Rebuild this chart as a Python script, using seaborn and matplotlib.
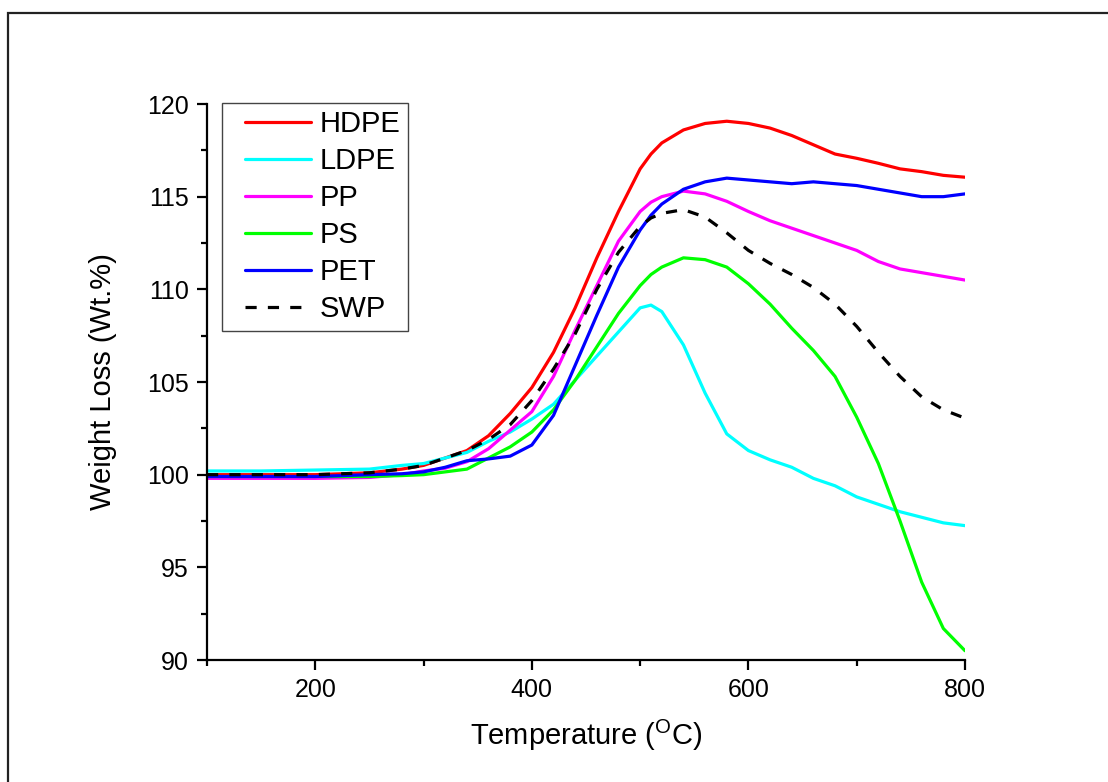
import numpy as np
import pandas as pd
import seaborn as sns
import matplotlib.pyplot as plt
from matplotlib.patches import Rectangle
from matplotlib.ticker import MultipleLocator
from matplotlib.legend_handler import HandlerLine2D

# temperatura comun para todas las curvas (grados C)
temperatura = [100, 150, 200, 250, 280, 300, 320, 340, 360, 380, 400, 420, 440, 460, 480, 500,
               510, 520, 540, 560, 580, 600, 620, 640, 660, 680, 700, 720, 740, 760, 780, 800]

hdpe = [100.0, 100.0, 100.0, 100.1, 100.3, 100.5, 100.9, 101.3, 102.1, 103.3, 104.7, 106.6, 109.0, 111.7, 114.2, 116.5,
        117.3, 117.9, 118.6, 118.95, 119.07, 118.95, 118.7, 118.3, 117.8, 117.3, 117.07, 116.8, 116.5, 116.35, 116.15, 116.05]
ldpe = [100.2, 100.2, 100.25, 100.3, 100.5, 100.6, 100.9, 101.2, 101.8, 102.3, 103.0, 103.8, 105.1, 106.4, 107.7, 109.0,
        109.15, 108.8, 107.0, 104.4, 102.2, 101.3, 100.8, 100.4, 99.8, 99.4, 98.8, 98.4, 98.0, 97.7, 97.4, 97.25]
pp = [99.8, 99.8, 99.8, 99.85, 100.0, 100.2, 100.35, 100.7, 101.4, 102.4, 103.4, 105.3, 107.8, 110.2, 112.6, 114.2,
      114.7, 115.0, 115.3, 115.15, 114.75, 114.2, 113.7, 113.3, 112.9, 112.5, 112.1, 111.5, 111.1, 110.9, 110.7, 110.5]
ps = [99.9, 99.9, 99.9, 99.9, 99.95, 100.0, 100.15, 100.3, 100.9, 101.5, 102.3, 103.5, 105.1, 106.9, 108.7, 110.2,
      110.8, 111.2, 111.7, 111.6, 111.2, 110.3, 109.2, 107.9, 106.7, 105.3, 103.1, 100.6, 97.5, 94.2, 91.7, 90.5]
pet = [99.9, 99.9, 99.9, 100.0, 100.05, 100.15, 100.4, 100.75, 100.85, 101.0, 101.6, 103.2, 105.9, 108.6, 111.2, 113.2,
       114.0, 114.6, 115.4, 115.8, 116.0, 115.9, 115.8, 115.7, 115.8, 115.7, 115.6, 115.4, 115.2, 115.0, 115.0, 115.15]
swp = [100.0, 100.0, 100.0, 100.1, 100.3, 100.5, 100.9, 101.3, 101.9, 102.7, 104.0, 105.7, 107.6, 110.0, 112.0, 113.4,
       113.85, 114.1, 114.3, 113.9, 113.05, 112.1, 111.4, 110.8, 110.1, 109.2, 108.0, 106.6, 105.3, 104.2, 103.5, 103.05]

muestras = ['HDPE', 'LDPE', 'PP', 'PS', 'PET', 'SWP']
colores = ['#ff0000', '#00ffff', '#ff00ff', '#00ff00', '#0000ff', '#000000']

sns.set_style('ticks')
plt.rcParams['font.family'] = ['Liberation Sans', 'DejaVu Sans']
plt.rcParams['mathtext.default'] = 'regular'
for clave in ['text.color', 'axes.labelcolor', 'xtick.color', 'ytick.color', 'axes.edgecolor']:
    plt.rcParams[clave] = 'black'

fig = plt.figure(figsize=(11.08, 7.82), dpi=100)
ax = fig.add_axes([207 / 1108, 1 - 660 / 782, 758 / 1108, 556 / 782])

# marco exterior de la figura
fig.patches.append(Rectangle((8 / 1108, -0.05), 1.1, 1 - 13 / 782 + 0.05, transform=fig.transFigure,
                             fill=False, edgecolor='#222222', linewidth=1.6, zorder=0))

for nombre, valores, color in zip(muestras, [hdpe, ldpe, pp, ps, pet, swp], colores):
    estilo = (0, (3.5, 3.5)) if nombre == 'SWP' else '-'
    sns.lineplot(x=temperatura, y=valores, color=color, linewidth=2.3, linestyle=estilo,
                 label=nombre, ax=ax)

ax.set_xlim(100, 800)
ax.set_ylim(90, 120)
ax.xaxis.set_major_locator(MultipleLocator(200))
ax.xaxis.set_minor_locator(MultipleLocator(100))
ax.yaxis.set_major_locator(MultipleLocator(5))
ax.yaxis.set_minor_locator(MultipleLocator(2.5))
ax.tick_params(which='major', direction='out', length=7, width=1.6, labelsize=18, pad=6)
ax.tick_params(which='minor', direction='out', length=4, width=1.6)

sns.despine(ax=ax)
for lado in ['left', 'bottom']:
    ax.spines[lado].set_linewidth(1.6)

ax.set_xlabel(r'Temperature ($^{O}$C)', fontsize=21, labelpad=11)
ax.set_ylabel('Weight Loss (Wt.%)', fontsize=21, labelpad=22)

ax.legend(loc='upper left', bbox_to_anchor=(0.02, 1.002), borderaxespad=0, fontsize=21,
          frameon=True, fancybox=False, edgecolor='#444444', framealpha=1,
          handlelength=2.8, handletextpad=0.3, labelspacing=0.31, borderpad=0.25,
          handler_map={plt.Line2D: HandlerLine2D(xpad=0.54)})
ax.get_legend().get_frame().set_linewidth(1.0)

plt.savefig('out.png', dpi=100)
